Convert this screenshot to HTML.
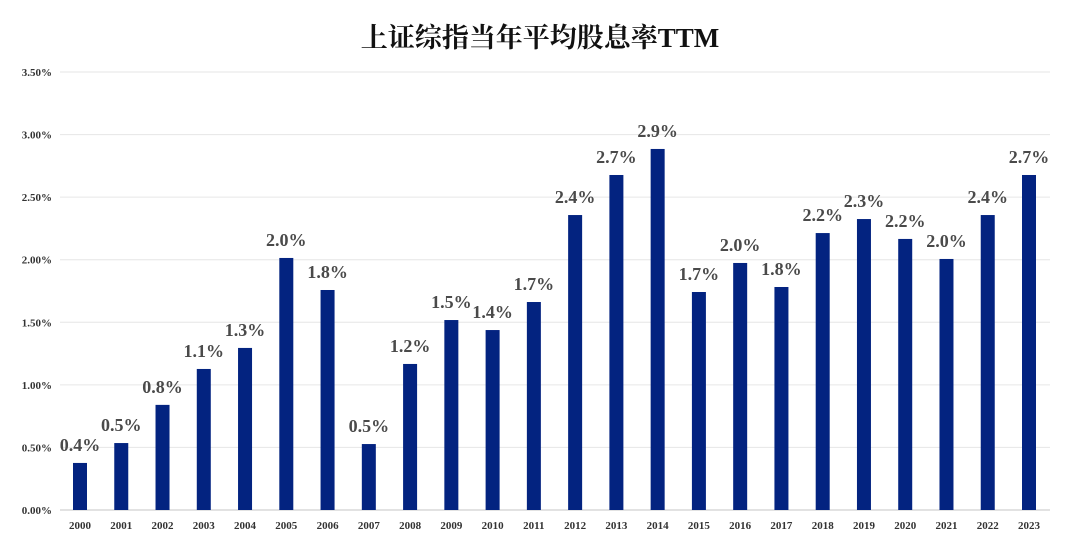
<!DOCTYPE html>
<html><head><meta charset="utf-8"><style>
body{margin:0;background:#fff;}
svg{display:block;font-family:"Liberation Serif","Noto Serif CJK SC",serif;}
</style></head><body>
<svg id="c" width="1080" height="557">
<text x="540" y="47" text-anchor="middle" font-size="27" font-weight="bold" fill="#111">上证综指当年平均股息率TTM</text>
<g id="grid"></g><g id="bars"></g>
</svg>
<script>
const years=["2000","2001","2002","2003","2004","2005","2006","2007","2008","2009","2010","2011","2012","2013","2014","2015","2016","2017","2018","2019","2020","2021","2022","2023"];
const values=[0.376,0.535,0.84,1.127,1.295,2.014,1.758,0.527,1.167,1.518,1.438,1.662,2.357,2.677,2.885,1.742,1.974,1.782,2.213,2.325,2.166,2.006,2.357,2.677];
const yTicks=[0,0.5,1,1.5,2,2.5,3,3.5];
const tickLabels=["0.00%","0.50%","1.00%","1.50%","2.00%","2.50%","3.00%","3.50%"];
const NS="http://www.w3.org/2000/svg";
const y0=510,y1=72,x0=60,x1=1050;
const y=v=>y0-(v/3.5)*(y0-y1);
const x=i=>80+i*(1029-80)/23;
const g=document.getElementById('grid'),b=document.getElementById('bars');
function mk(t,a,p){const e=document.createElementNS(NS,t);for(const k in a)e.setAttribute(k,a[k]);p.appendChild(e);return e;}
yTicks.forEach((v,i)=>{
 const l=mk('line',{x1:x0,x2:x1,y1:y(v),y2:y(v),stroke:i==0?'#d9d9d9':'#e6e6e6','stroke-width':i==0?1.5:1},g);
 
 
 const t=mk('text',{x:52,y:y(v)+4,'text-anchor':'end','font-size':11,'font-weight':'bold',fill:'#333'},g);
 t.textContent=tickLabels[i];
 
 
});
years.forEach((yr,i)=>{
 const r=mk('rect',{x:x(i)-7,y:y(values[i]),width:14,height:y0-y(values[i]),fill:'#032380'},b);
 
 
 const t=mk('text',{x:x(i),y:y(values[i])-12,'text-anchor':'middle','font-size':18,'font-weight':'bold',fill:'#4a4a4a'},b);
 t.textContent=values[i].toFixed(1)+'%';
 
 
 const xl=mk('text',{x:x(i),y:529,'text-anchor':'middle','font-size':11,'font-weight':'bold',fill:'#333'},b);
 xl.textContent=yr;
 
 
});
</script>
</body></html>
